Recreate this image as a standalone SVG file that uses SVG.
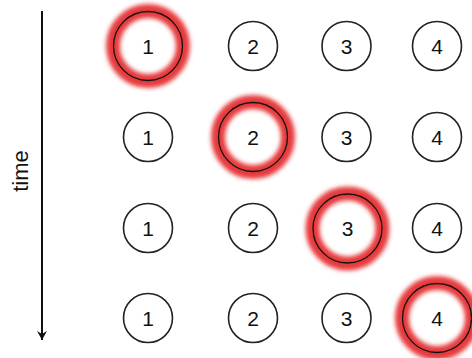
<svg xmlns="http://www.w3.org/2000/svg" width="472" height="358" viewBox="0 0 472 358">
<defs>
<style>
.n{fill:#fff;stroke:#222;stroke-width:1.6}
.w{fill:#fff;stroke:none}
.h{fill:none;stroke:#111;stroke-width:1.3}
.g{fill:none;stroke:#e63a3c;stroke-width:14;filter:url(#blur)}
.t{font-family:"Liberation Sans",Arial,sans-serif;font-size:21px;fill:#111;text-anchor:middle}
</style>
<filter id="blur" x="-30%" y="-30%" width="160%" height="160%"><feGaussianBlur stdDeviation="2.3"/></filter>
<marker id="ah" markerWidth="12" markerHeight="12" viewBox="0 0 12 12" refX="10" refY="6" orient="auto" markerUnits="userSpaceOnUse">
<path d="M1,1 L10,6 L1,11 L4,6 Z" fill="#111"/>
</marker>
</defs>
<rect width="472" height="358" fill="#fff"/>
<g id="connectors">
<line x1="42" y1="11" x2="42" y2="340" stroke="#111" stroke-width="2" marker-end="url(#ah)"/>
</g>
<g id="time-label"><text class="t" transform="translate(28,171) rotate(-90)" style="font-size:22px">time</text></g>
<g id="r1c1"><circle class="w" cx="148" cy="46" r="34.5"/><circle class="g" cx="148" cy="46" r="35"/><circle class="h" cx="148" cy="46" r="34.5"/><text class="t" x="148" y="53.5">1</text></g>
<g id="r1c2"><circle class="n" cx="253" cy="46" r="24.5"/><text class="t" x="253" y="53.5">2</text></g>
<g id="r1c3"><circle class="n" cx="346.5" cy="46" r="24.5"/><text class="t" x="346.5" y="53.5">3</text></g>
<g id="r1c4"><circle class="n" cx="437" cy="46" r="24.5"/><text class="t" x="437" y="53.5">4</text></g>
<g id="r2c1"><circle class="n" cx="148" cy="137" r="24.5"/><text class="t" x="148" y="144.5">1</text></g>
<g id="r2c2"><circle class="w" cx="253" cy="137" r="34.5"/><circle class="g" cx="253" cy="137" r="35"/><circle class="h" cx="253" cy="137" r="34.5"/><text class="t" x="253" y="144.5">2</text></g>
<g id="r2c3"><circle class="n" cx="346.5" cy="137" r="24.5"/><text class="t" x="346.5" y="144.5">3</text></g>
<g id="r2c4"><circle class="n" cx="437" cy="137" r="24.5"/><text class="t" x="437" y="144.5">4</text></g>
<g id="r3c1"><circle class="n" cx="148" cy="228" r="24.5"/><text class="t" x="148" y="235.5">1</text></g>
<g id="r3c2"><circle class="n" cx="253" cy="228" r="24.5"/><text class="t" x="253" y="235.5">2</text></g>
<g id="r3c3"><circle class="w" cx="347.5" cy="228.5" r="34.5"/><circle class="g" cx="347.5" cy="228.5" r="35"/><circle class="h" cx="347.5" cy="228.5" r="34.5"/><text class="t" x="347.5" y="236">3</text></g>
<g id="r3c4"><circle class="n" cx="437" cy="228" r="24.5"/><text class="t" x="437" y="235.5">4</text></g>
<g id="r4c1"><circle class="n" cx="148" cy="318" r="24.5"/><text class="t" x="148" y="325.5">1</text></g>
<g id="r4c2"><circle class="n" cx="253" cy="318" r="24.5"/><text class="t" x="253" y="325.5">2</text></g>
<g id="r4c3"><circle class="n" cx="346.5" cy="318" r="24.5"/><text class="t" x="346.5" y="325.5">3</text></g>
<g id="r4c4"><circle class="w" cx="437" cy="318" r="34.5"/><circle class="g" cx="437" cy="318" r="35"/><circle class="h" cx="437" cy="318" r="34.5"/><text class="t" x="437" y="325.5">4</text></g>
</svg>
